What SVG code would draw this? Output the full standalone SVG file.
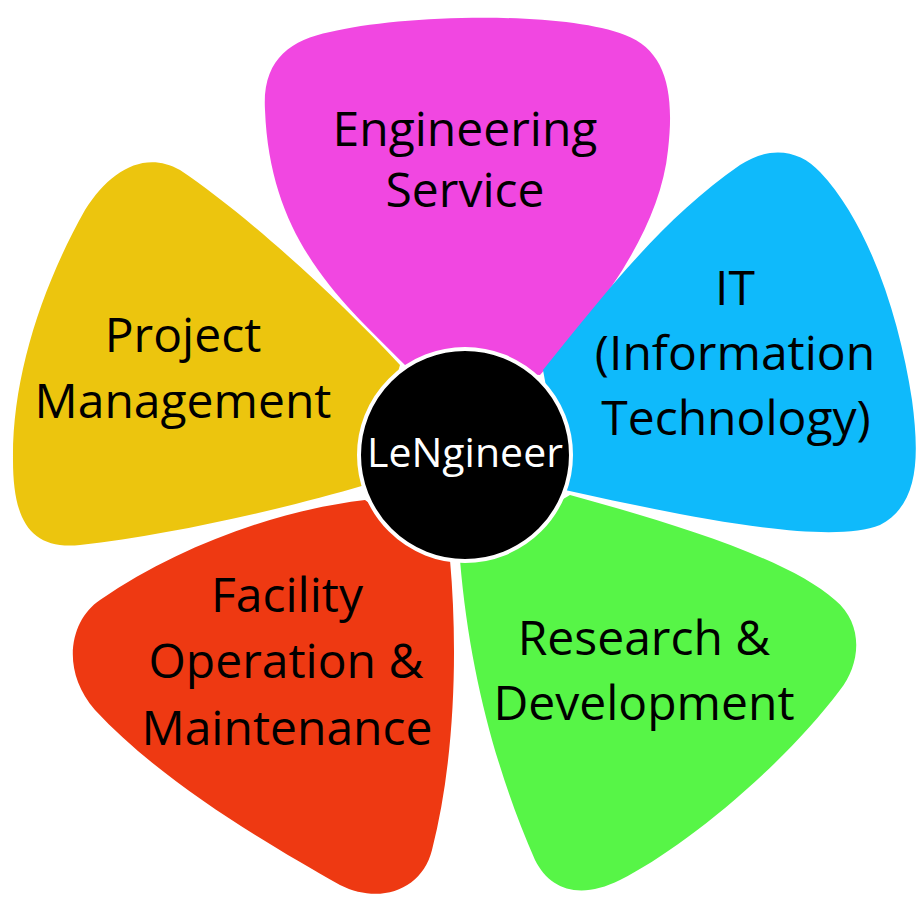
<svg xmlns="http://www.w3.org/2000/svg" width="917" height="901" viewBox="0 0 917 901">
<style>
.lbl{font-family:"Open Sans","Liberation Sans",sans-serif;font-size:48px;fill:#000;text-anchor:middle}
.ctr{font-family:"Open Sans","Liberation Sans",sans-serif;font-size:41px;fill:#fff;text-anchor:middle}
</style>
<rect width="917" height="901" fill="#fff"/>
<g id="engineering-service">
<path fill="#F147E1" d="M 405,365 C 340,300 270,240 265,110 C 262,60 290,40 330,32 C 400,15 560,10 625,35 C 665,50 675,90 668,150 C 660,230 600,310 540,375 Z"/>
<text class="lbl" x="465" y="146">Engineering</text>
<text class="lbl" x="465" y="207">Service</text>
</g>
<g id="it">
<path fill="#0FBAFB" d="M 543,370 C 600,300 660,220 740,165 C 770,145 800,150 820,172 C 870,225 900,320 912,400 C 920,460 918,505 880,525 C 830,545 700,520 565,490 Z"/>
<text class="lbl" x="735" y="305">IT</text>
<text class="lbl" x="735" y="370">(Information</text>
<text class="lbl" x="736" y="435">Technology)</text>
</g>
<g id="research-development">
<path fill="#57F547" d="M 570,495 C 680,525 790,560 835,600 C 865,625 860,665 840,690 C 780,770 680,850 620,880 C 580,900 550,890 535,860 C 500,780 470,680 460,560 Z"/>
<text class="lbl" x="644" y="655">Research &amp;</text>
<text class="lbl" x="644" y="720">Development</text>
</g>
<g id="facility-operation">
<path fill="#EE3912" d="M 450,560 C 458,650 455,760 432,850 C 422,890 380,905 340,885 C 260,840 160,780 95,710 C 60,670 70,620 100,600 C 180,545 280,510 365,500 Z"/>
<text class="lbl" x="287" y="612">Facility</text>
<text class="lbl" x="286" y="678">Operation &amp;</text>
<text class="lbl" x="287" y="745">Maintenance</text>
</g>
<g id="project-management">
<path fill="#ECC50E" d="M 400,365 C 330,290 240,210 180,170 C 145,150 110,170 85,210 C 40,290 12,380 13,460 C 13,520 30,550 80,545 C 170,535 280,510 365,485 Z"/>
<text class="lbl" x="183" y="352">Project</text>
<text class="lbl" x="183" y="418">Management</text>
</g>
<g id="lengineer">
<circle cx="465" cy="455" r="106" fill="#000" stroke="#fff" stroke-width="4"/>
<text class="ctr" x="465" y="467">LeNgineer</text>
</g>
<g id="connectors"/>
</svg>
